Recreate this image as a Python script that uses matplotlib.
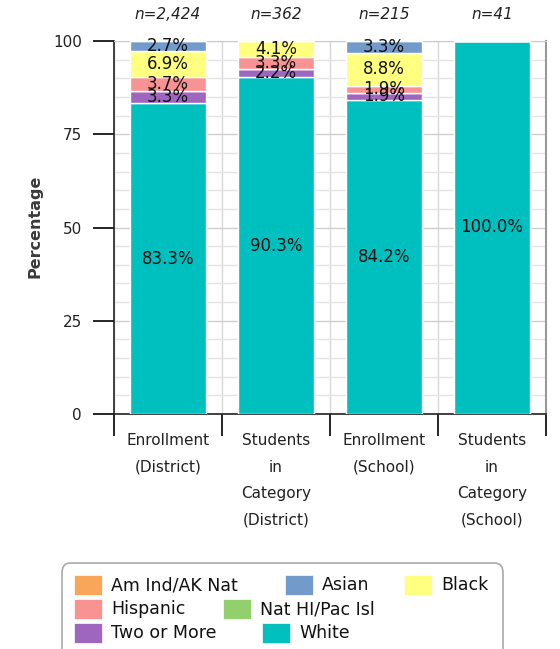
import matplotlib.pyplot as plt
from matplotlib.patches import Rectangle, FancyBboxPatch
import numpy as np

# Data (percent), stacked bottom -> top
categories = ['Enrollment\n(District)', 'Students\nin\nCategory\n(District)',
              'Enrollment\n(School)', 'Students\nin\nCategory\n(School)']
n_labels = ['n=2,424', 'n=362', 'n=215', 'n=41']
groups = ['White', 'Two or More', 'Nat HI/Pac Isl', 'Hispanic', 'Black', 'Asian', 'Am Ind/AK Nat']
white = [83.3, 90.3, 84.2, 100.0]
two_or_more = [3.3, 2.2, 1.9, 0.0]
nat_hi = [0.0, 0.0, 0.0, 0.0]
hispanic = [3.7, 3.3, 1.9, 0.0]
black = [6.9, 4.1, 8.8, 0.0]
asian = [2.7, 0.0, 3.3, 0.0]
am_ind = [0.0, 0.0, 0.0, 0.0]
series = [white, two_or_more, nat_hi, hispanic, black, asian, am_ind]

colors = {'Am Ind/AK Nat': '#F9A65A', 'Asian': '#729ACA', 'Black': '#FFFF80',
          'Hispanic': '#F99292', 'Nat HI/Pac Isl': '#92D06E',
          'Two or More': '#9E66BE', 'White': '#00BFBF'}

W, H = 560, 649
fig = plt.figure(figsize=(W / 100, H / 100), dpi=100)
ax = fig.add_axes([114 / W, 1 - 414 / H, 432 / W, 373 / H])

x = np.arange(len(categories))
bottom = np.zeros(len(categories))
for name, vals in zip(groups, series):
    vals = np.array(vals)
    ax.bar(x, vals, width=0.7, bottom=bottom, color=colors[name],
           edgecolor='white', linewidth=1, zorder=3)
    for xi, b, v in zip(x, bottom, vals):
        if v >= 1:
            ax.text(xi, b + v / 2, f'{v:.1f}%', ha='center', va='center',
                    fontsize=12, color='#111111', zorder=4)
    bottom += vals

ax.set_xlim(-0.5, len(categories) - 0.5)
ax.set_ylim(0, 100)
ax.set_yticks([0, 25, 50, 75, 100])
ax.set_yticks(np.arange(0, 101, 5), minor=True)
ax.set_xticks(np.arange(-0.5, len(categories), 1))
ax.set_xticklabels([])
ax.set_xticks(x, minor=True)
ax.set_xticklabels(categories, minor=True, fontsize=11, linespacing=1.95,
                   color='#222222')
ax.tick_params(axis='x', which='major', length=16, width=1.2, direction='out')
ax.tick_params(axis='x', which='minor', length=0, pad=14)
ax.tick_params(axis='y', which='major', length=15, width=1.2, pad=8,
               labelsize=11, labelcolor='#222222')
ax.tick_params(axis='y', which='minor', length=0)
ax.grid(True, which='minor', axis='y', color='#e4e4e4', linewidth=1, zorder=0)
ax.grid(True, which='major', axis='y', color='#d0d0d0', linewidth=1, zorder=0)
ax.grid(True, which='major', axis='x', color='#d8d8d8', linewidth=1, zorder=0)

for s in ['left', 'bottom']:
    ax.spines[s].set_color('#222222')
    ax.spines[s].set_linewidth(1.2)
ax.spines['top'].set_color('#cccccc')
ax.spines['right'].set_color('#999999')
ax.spines['right'].set_linewidth(1.5)

for xi, lab in zip(x, n_labels):
    ax.text(xi, 1.07, lab, transform=ax.get_xaxis_transform(), ha='center',
            va='center', fontsize=11, style='italic', color='#222222')

fig.text(35 / W, 1 - 226 / H, 'Percentage', rotation=90, ha='center', va='center',
         fontsize=11.5, fontweight='bold', color='#3a3a3a')

# legend box (flow layout like the original)
def fx(px):
    return px / W

def fy(py):
    return 1 - py / H

fig.patches.append(FancyBboxPatch((fx(62), fy(660)), fx(503) - fx(62), fy(563) - fy(660),
                                  boxstyle='round,pad=0,rounding_size=0.015',
                                  transform=fig.transFigure, facecolor='white',
                                  edgecolor='#aaaaaa', linewidth=1.2))
legend_rows = [[('Am Ind/AK Nat', 74), ('Asian', 285), ('Black', 404)],
               [('Hispanic', 74), ('Nat HI/Pac Isl', 223)],
               [('Two or More', 74), ('White', 262)]]
row_tops = [575, 599, 623]
for row, top in zip(legend_rows, row_tops):
    for name, left in row:
        fig.patches.append(Rectangle((fx(left), fy(top + 20)), 28 / W, 20 / H,
                                     transform=fig.transFigure, facecolor=colors[name],
                                     edgecolor='white', linewidth=0.5))
        fig.text(fx(left + 37), fy(top + 10), name, ha='left', va='center',
                 fontsize=12.5, color='#111111')

fig.savefig('out.png', dpi=100)
